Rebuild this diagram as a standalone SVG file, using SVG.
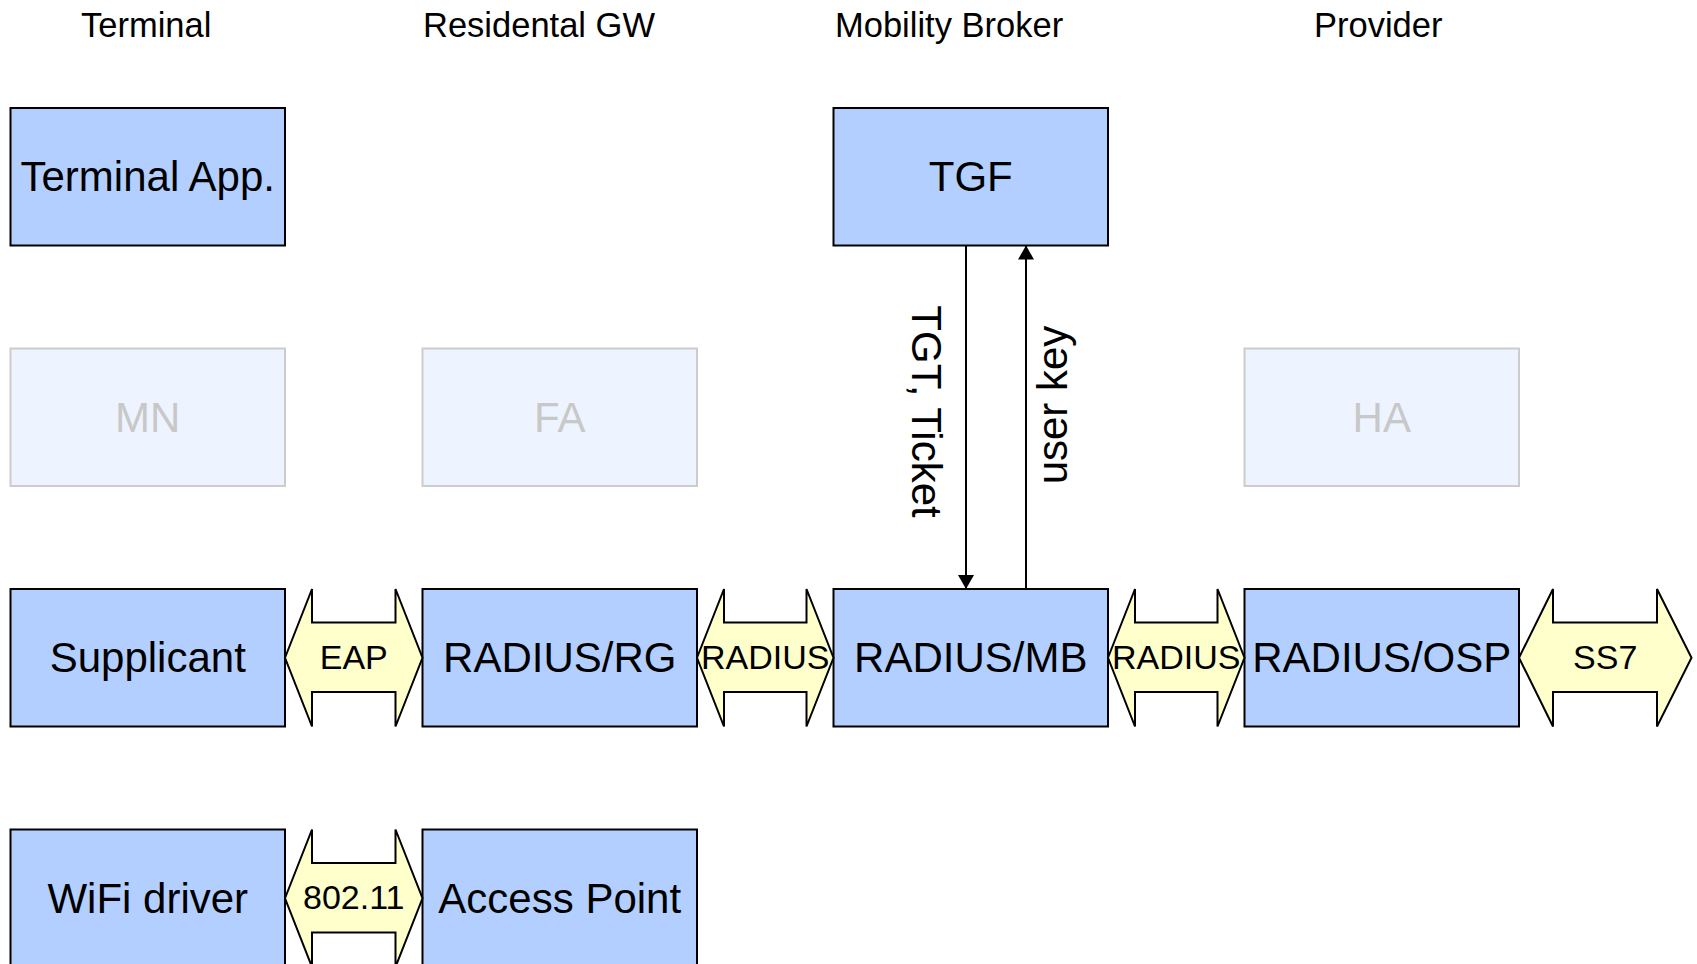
<svg xmlns="http://www.w3.org/2000/svg" width="1697" height="964" viewBox="0 0 1697 964">
  <style>
    text { font-family: "Liberation Sans", Arial, sans-serif; fill: #000; }
    .box { fill: #b3cfff; stroke: #000; stroke-width: 2; }
    .box-dim { fill: #edf4ff; stroke: #cccccc; stroke-width: 2; }
    .label { font-size: 42px; text-anchor: middle; }
    .label-dim { font-size: 42px; text-anchor: middle; fill: #c8c8c8; }
    .head { font-size: 34.5px; }
    .proto { fill: #ffffcc; stroke: #000; stroke-width: 2; stroke-linejoin: miter; }
    .proto-label { font-size: 34px; text-anchor: middle; }
    .link { stroke: #000; stroke-width: 2; fill: none; }
    .link-label { font-size: 42px; text-anchor: middle; }
  </style>
  <defs>
    <marker id="arrow" viewBox="0 0 14 16" refX="14" refY="8" markerWidth="14" markerHeight="16" markerUnits="userSpaceOnUse" orient="auto">
      <path d="M0,0 L14,8 L0,16 Z" fill="#000"/>
    </marker>
  </defs>

  <rect width="1697" height="964" fill="#fff"/>

  <!-- column headings -->
  <g id="headings">
    <text class="head" x="81" y="36.5">Terminal</text>
    <text class="head" x="423" y="36.5">Residental GW</text>
    <text class="head" x="835" y="36.5">Mobility Broker</text>
    <text class="head" x="1314" y="36.5">Provider</text>
  </g>

  <!-- row 1 -->
  <g id="terminal-app">
    <rect class="box" x="10.5" y="108" width="274.5" height="137.5"/>
    <text class="label" x="147.75" y="191">Terminal App.</text>
  </g>
  <g id="tgf">
    <rect class="box" x="833.5" y="108" width="274.5" height="137.5"/>
    <text class="label" x="970.75" y="191">TGF</text>
  </g>

  <!-- row 2 (inactive) -->
  <g id="mn">
    <rect class="box-dim" x="10.5" y="348.5" width="274.5" height="137.5"/>
    <text class="label-dim" x="147.75" y="431.5">MN</text>
  </g>
  <g id="fa">
    <rect class="box-dim" x="422.5" y="348.5" width="274.5" height="137.5"/>
    <text class="label-dim" x="559.75" y="431.5">FA</text>
  </g>
  <g id="ha">
    <rect class="box-dim" x="1244.5" y="348.5" width="274.5" height="137.5"/>
    <text class="label-dim" x="1381.75" y="431.5">HA</text>
  </g>

  <!-- row 3 -->
  <g id="supplicant">
    <rect class="box" x="10.5" y="589" width="274.5" height="137.5"/>
    <text class="label" x="147.75" y="672">Supplicant</text>
  </g>
  <g id="radius-rg">
    <rect class="box" x="422.5" y="589" width="274.5" height="137.5"/>
    <text class="label" x="559.75" y="672">RADIUS/RG</text>
  </g>
  <g id="radius-mb">
    <rect class="box" x="833.5" y="589" width="274.5" height="137.5"/>
    <text class="label" x="970.75" y="672">RADIUS/MB</text>
  </g>
  <g id="radius-osp">
    <rect class="box" x="1244.5" y="589" width="274.5" height="137.5"/>
    <text class="label" x="1381.75" y="672">RADIUS/OSP</text>
  </g>

  <!-- row 4 -->
  <g id="wifi-driver">
    <rect class="box" x="10.5" y="829.5" width="274.5" height="137.5"/>
    <text class="label" x="147.75" y="912.5">WiFi driver</text>
  </g>
  <g id="access-point">
    <rect class="box" x="422.5" y="829.5" width="274.5" height="137.5"/>
    <text class="label" x="559.75" y="912.5">Access Point</text>
  </g>

  <!-- protocol double arrows -->
  <g id="eap">
    <polygon class="proto" points="285,657.75 312,589 312,622.5 395.5,622.5 395.5,589 422.5,657.75 395.5,726.5 395.5,692 312,692 312,726.5"/>
    <text class="proto-label" x="353.75" y="668.5">EAP</text>
  </g>
  <g id="radius-rg-mb">
    <polygon class="proto" points="697,657.75 724,589 724,622.5 806.5,622.5 806.5,589 833.5,657.75 806.5,726.5 806.5,692 724,692 724,726.5"/>
    <text class="proto-label" x="765.25" y="668.5">RADIUS</text>
  </g>
  <g id="radius-mb-osp">
    <polygon class="proto" points="1108,657.75 1135,589 1135,622.5 1217.5,622.5 1217.5,589 1244.5,657.75 1217.5,726.5 1217.5,692 1135,692 1135,726.5"/>
    <text class="proto-label" x="1176.25" y="668.5">RADIUS</text>
  </g>
  <g id="ss7">
    <polygon class="proto" points="1519,657.75 1553,589 1553,622.5 1657,622.5 1657,589 1691.5,657.75 1657,726.5 1657,692 1553,692 1553,726.5"/>
    <text class="proto-label" x="1605.25" y="668.5">SS7</text>
  </g>
  <g id="ieee80211">
    <polygon class="proto" points="285,898.25 312,829.5 312,863 395.5,863 395.5,829.5 422.5,898.25 395.5,967 395.5,932.5 312,932.5 312,967"/>
    <text class="proto-label" x="353.75" y="909">802.11</text>
  </g>

  <!-- connectors between TGF and RADIUS/MB -->
  <g id="connectors">
    <line class="link" x1="966" y1="245.5" x2="966" y2="589" marker-end="url(#arrow)"/>
    <line class="link" x1="1026" y1="589" x2="1026" y2="245.5" marker-end="url(#arrow)"/>
    <text class="link-label" transform="translate(911.5 411.5) rotate(90)">TGT, Ticket</text>
    <text class="link-label" transform="translate(1066.5 405) rotate(-90)">user key</text>
  </g>
</svg>
